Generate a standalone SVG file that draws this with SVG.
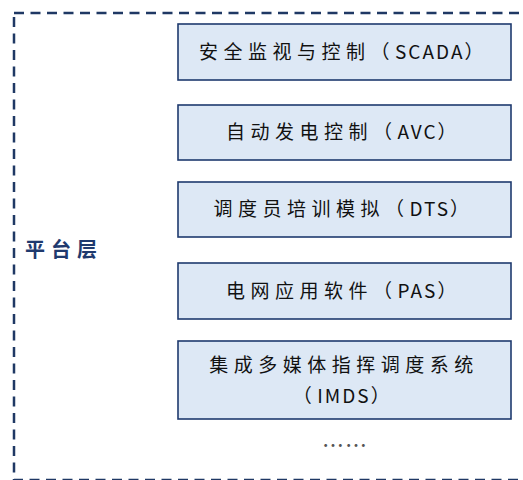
<svg xmlns="http://www.w3.org/2000/svg" width="523" height="480" viewBox="0 0 523 480">
<style>
.frame{fill:none;stroke:#1f3864;stroke-width:2.5;stroke-dasharray:10 6.5}
.box{fill:#dde8f5;stroke:#1f3a6e;stroke-width:1.6}
.t{font-family:"Noto Sans CJK SC","Noto Sans",sans-serif;font-size:19px;fill:#111;text-anchor:middle;letter-spacing:5.5px}
.l{letter-spacing:2px}
.layer{font-family:"Noto Sans CJK SC","Noto Sans",sans-serif;font-size:20px;font-weight:bold;fill:#1f3a6e;letter-spacing:6px}
.dots{font-family:"Noto Sans CJK SC",sans-serif;font-size:22px;fill:#555;text-anchor:middle;letter-spacing:1px}
</style>
<rect width="523" height="480" fill="#ffffff"/>
<rect class="frame" x="14" y="13" width="530" height="467"/>
<g id="layer-label"><text class="layer" x="25" y="257">平台层</text></g>
<g id="scada"><rect class="box" x="178" y="24" width="333" height="56"/><text class="t" x="344" y="59">安全监视与控制（<tspan class="l">SCADA</tspan>）</text></g>
<g id="avc"><rect class="box" x="178" y="105" width="333" height="55"/><text class="t" x="344" y="139">自动发电控制（<tspan class="l">AVC</tspan>）</text></g>
<g id="dts"><rect class="box" x="178" y="182" width="333" height="55"/><text class="t" x="344" y="216">调度员培训模拟（<tspan class="l">DTS</tspan>）</text></g>
<g id="pas"><rect class="box" x="178" y="263" width="333" height="56"/><text class="t" x="344" y="298">电网应用软件（<tspan class="l">PAS</tspan>）</text></g>
<g id="imds"><rect class="box" x="178" y="341" width="333" height="78"/><text class="t" x="344" y="372">集成多媒体指挥调度系统</text><text class="t" x="344" y="403">（<tspan class="l">IMDS</tspan>）</text></g>
<g id="more"><text class="dots" x="345" y="453">……</text></g>
<g id="connectors"></g>
</svg>
